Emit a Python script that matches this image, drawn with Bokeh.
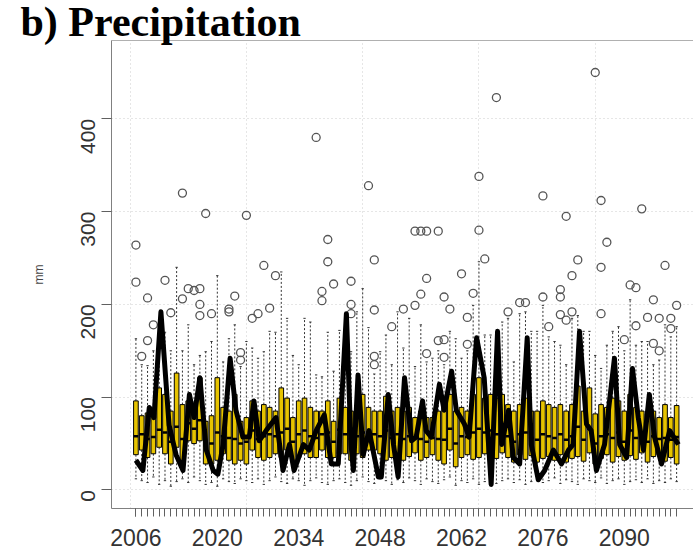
from bokeh.plotting import figure
from bokeh.models import Range1d, FixedTicker, LinearAxis
from bokeh.embed import file_html
from bokeh.resources import INLINE
import math

years = list(range(2006, 2100))

q1 = [38, 43, 35, 39, 46, 39, 28, 46, 32, 53,
      50, 53, 28, 28, 32, 39, 32, 28, 32, 28,
      43, 35, 32, 35, 39, 35, 43, 32, 35, 39,
      35, 35, 43, 35, 35, 39, 39, 32, 39, 35,
      43, 43, 39, 32, 35, 39, 32, 36, 40, 32,
      35, 38, 32, 28, 43, 25, 35, 38, 33, 35,
      39, 36, 34, 40, 35, 30, 38, 33, 37, 30,
      34, 36, 32, 38, 30, 34, 36, 31, 40, 28,
      34, 38, 30, 36, 32, 37, 33, 40, 30, 36,
      38, 31, 35, 28]

medians = [58, 60, 55, 57, 65, 62, 52, 68, 55, 72,
           66, 75, 48, 50, 62, 58, 56, 55, 50, 52,
           64, 55, 58, 60, 58, 62, 66, 52, 60, 64,
           58, 56, 60, 62, 52, 65, 60, 55, 58, 62,
           62, 60, 58, 64, 56, 60, 55, 58, 56, 55,
           52, 56, 55, 54, 66, 50, 58, 57, 62, 66,
           62, 64, 60, 65, 58, 52, 60, 62, 56, 54,
           60, 58, 56, 60, 54, 58, 68, 54, 66, 50,
           58, 60, 56, 62, 52, 64, 56, 58, 52, 58,
           55, 56, 54, 57]

q3 = [96, 80, 83, 83, 110, 103, 85, 126, 92, 96,
      85, 121, 74, 80, 121, 89, 85, 103, 74, 78,
      96, 85, 92, 89, 85, 110, 99, 78, 96, 99,
      89, 85, 85, 96, 74, 99, 89, 85, 85, 103,
      89, 85, 85, 101, 85, 89, 85, 89, 78, 85,
      78, 78, 85, 92, 103, 85, 89, 85, 103, 121,
      99, 103, 99, 103, 92, 85, 92, 99, 85, 85,
      96, 92, 89, 92, 85, 92, 112, 85, 110, 82,
      92, 89, 99, 96, 85, 103, 89, 85, 82, 85,
      78, 92, 78, 91]

whisk_lo = [12, 10, 8, 14, 6, 10, 4, 9, 12, 8,
            14, 10, 6, 8, 4, 12, 9, 7, 12, 10,
            8, 12, 6, 10, 14, 9, 7, 12, 10, 5,
            10, 13, 8, 6, 10, 12, 8, 5, 10, 14,
            9, 7, 12, 10, 6, 11, 8, 13, 10, 6,
            12, 9, 7, 11, 14, 5, 10, 8, 12, 6,
            9, 13, 7, 10, 12, 8, 11, 6, 9, 12,
            8, 10, 13, 7, 11, 9, 6, 12, 10, 8,
            13, 7, 10, 12, 6, 9, 11, 8, 12, 7,
            10, 8, 12, 9]

whisk_hi = [163, 135, 134, 150, 185, 170, 150, 240, 150, 178,
            135, 145, 149, 160, 231, 138, 163, 178, 133, 160,
            153, 142, 149, 171, 170, 235, 185, 145, 135, 185,
            181, 124, 122, 170, 128, 172, 185, 149, 192, 217,
            175, 125, 149, 167, 135, 192, 153, 185, 133, 178,
            138, 142, 150, 135, 171, 163, 142, 150, 199, 246,
            167, 167, 167, 181, 185, 138, 190, 192, 171, 171,
            199, 165, 160, 156, 135, 185, 188, 171, 171, 145,
            131, 156, 171, 176, 150, 205, 156, 160, 160, 135,
            140, 178, 165, 176]

outlier_years = [2006, 2006, 2007, 2008, 2008, 2009, 2011, 2012, 2014, 2014,
                 2015, 2016, 2017, 2017, 2017, 2018, 2019, 2022, 2022, 2023,
                 2024, 2024, 2025, 2026, 2027, 2028, 2029, 2030, 2037, 2038,
                 2038, 2039, 2039, 2040, 2043, 2043, 2043, 2046, 2047, 2047,
                 2047, 2047, 2050, 2052, 2054, 2054, 2055, 2055, 2056, 2056,
                 2056, 2058, 2058, 2059, 2059, 2059, 2060, 2062, 2063, 2063,
                 2064, 2065, 2065, 2066, 2068, 2070, 2072, 2073, 2076, 2076,
                 2077, 2079, 2079, 2079, 2080, 2080, 2081, 2081, 2082, 2085,
                 2086, 2086, 2086, 2087, 2090, 2091, 2092, 2092, 2093, 2094,
                 2095, 2095, 2096, 2096, 2097, 2098, 2098, 2099]
outlier_values = [264, 224, 144, 207, 161, 178, 226, 191, 320, 206,
                  217, 215, 217, 200, 188, 298, 190, 195, 192, 209,
                  148, 140, 296, 185, 190, 242, 196, 231, 380, 214,
                  204, 270, 246, 222, 225, 200, 190, 328, 248, 194,
                  144, 135, 176, 195, 279, 199, 279, 211, 279, 228,
                  147, 279, 161, 208, 162, 143, 195, 233, 186, 157,
                  212, 338, 280, 249, 423, 192, 202, 202, 317, 208,
                  176, 216, 208, 189, 295, 183, 231, 192, 248, 450,
                  312, 240, 190, 267, 162, 221, 218, 177, 303, 186,
                  205, 158, 185, 150, 242, 185, 174, 199]

line_years = [2006.0, 2007.2, 2008.3, 2009.1, 2010.3, 2011.7, 2012.9, 2014.1, 2015.2, 2016.0,
              2017.0, 2018.1, 2019.3, 2020.1, 2021.0, 2022.2, 2023.2, 2024.4, 2025.5, 2026.3,
              2027.2, 2028.4, 2030.1, 2031.3, 2032.4, 2033.2, 2034.8, 2035.8, 2037.0, 2038.4,
              2039.6, 2040.8, 2042.2, 2043.0, 2043.4, 2044.2, 2045.1, 2046.1, 2047.7, 2048.2,
              2049.4, 2050.3, 2051.1, 2052.2, 2053.4, 2054.2, 2055.3, 2055.9, 2056.8, 2058.2,
              2059.0, 2060.3, 2061.1, 2062.5, 2063.3, 2064.6, 2065.9, 2067.1, 2068.2, 2068.9,
              2070.1, 2070.9, 2072.0, 2073.3, 2074.0, 2075.2, 2076.3, 2077.8, 2079.2, 2080.4,
              2081.2, 2082.3, 2083.5, 2084.3, 2085.2, 2086.6, 2088.3, 2089.2, 2090.4, 2091.4,
              2092.4, 2093.3, 2094.3, 2095.2, 2096.4, 2097.8, 2099.3]
line_values = [32, 21, 89, 78, 192, 70, 38, 21, 103, 78,
               121, 43, 21, 17, 49, 142, 86, 57, 57, 96,
               53, 64, 78, 21, 49, 21, 49, 43, 64, 81,
               28, 28, 190, 49, 21, 124, 38, 64, 14, 14,
               103, 49, 14, 121, 53, 57, 96, 64, 57, 114,
               86, 128, 86, 71, 57, 164, 121, 6, 171, 49,
               86, 35, 28, 164, 49, 11, 21, 43, 28, 43,
               49, 171, 71, 64, 21, 49, 142, 49, 35, 131,
               78, 43, 103, 57, 28, 64, 49]

label_years = [2006, 2020, 2034, 2048, 2062, 2076, 2090]
y_ticks = [0, 100, 200, 300, 400]
grid_years = [2005, 2025, 2045, 2065, 2085]

box_half = 0.4
cap_half = 0.2

p = figure(width=693, height=553, output_backend="svg", toolbar_location=None,
           x_range=Range1d(2001.8, 2101.9), y_range=Range1d(-20, 484.5),
           min_border_left=111, min_border_top=40, min_border_bottom=45,
           min_border_right=0)
p.outline_line_color = None
p.background_fill_color = "white"
p.border_fill_color = "white"

# title overlapping the top border
p.title.text = "b) Precipitation"
p.title.align = "left"
p.title.offset = -91
p.title.standoff = -8
p.title.text_font = "Liberation Serif"
p.title.text_font_style = "bold"
p.title.text_font_size = "42px"
p.title.text_color = "black"

# grid
p.xgrid.ticker = FixedTicker(ticks=grid_years)
p.ygrid.ticker = FixedTicker(ticks=y_ticks)
for g in (p.xgrid, p.ygrid):
    g.grid_line_color = "#cccccc"
    g.grid_line_dash = "1 3"
    g.grid_line_width = 1

# x axis
xa = p.xaxis[0]
xa.ticker = FixedTicker(ticks=label_years, minor_ticks=years)
xa.major_tick_out = 8
xa.major_tick_in = 0
xa.minor_tick_out = 8
xa.minor_tick_in = 0
xa.axis_line_color = "#808080"
xa.major_tick_line_color = "#606060"
xa.minor_tick_line_color = "#606060"
xa.major_label_text_font = "Liberation Sans"
xa.major_label_text_font_size = "23px"
xa.major_label_text_color = "#333333"
xa.major_label_standoff = 12

# y axis
ya = p.yaxis[0]
ya.ticker = FixedTicker(ticks=y_ticks)
ya.major_tick_out = 10
ya.major_tick_in = 0
ya.minor_tick_line_color = None
ya.axis_line_color = "#808080"
ya.major_tick_line_color = "#606060"
ya.major_label_orientation = math.pi / 2
ya.major_label_text_font = "Liberation Sans"
ya.major_label_text_font_size = "21px"
ya.major_label_text_color = "#333333"
ya.major_label_standoff = 13
ya.axis_label = "mm"
ya.axis_label_text_font = "Liberation Sans"
ya.axis_label_text_font_style = "normal"
ya.axis_label_text_font_size = "12px"
ya.axis_label_text_color = "#444444"
ya.axis_label_standoff = 26

# top border line
top = LinearAxis(ticker=FixedTicker(ticks=[]), major_tick_out=0, major_tick_in=0,
                 minor_tick_out=0, major_label_text_font_size="0px",
                 axis_line_color="#b0b0b0")
p.add_layout(top, "above")

# whiskers
p.segment(x0=years, y0=q3, x1=years, y1=whisk_hi, line_color="#333333",
          line_width=1, line_dash="2 2")
p.segment(x0=years, y0=q1, x1=years, y1=whisk_lo, line_color="#333333",
          line_width=1, line_dash="2 2")
p.segment(x0=[y - cap_half for y in years], y0=whisk_hi,
          x1=[y + cap_half for y in years], y1=whisk_hi, line_color="#333333", line_width=1)
p.segment(x0=[y - cap_half for y in years], y0=whisk_lo,
          x1=[y + cap_half for y in years], y1=whisk_lo, line_color="#333333", line_width=1)

# boxes
p.vbar(x=years, width=2 * box_half, bottom=q1, top=q3, fill_color="#E6C300",
       line_color="black", line_width=1)
p.segment(x0=[y - box_half for y in years], y0=medians,
          x1=[y + box_half for y in years], y1=medians, line_color="black", line_width=2.5)

# outliers
p.scatter(x=outlier_years, y=outlier_values, marker="circle", size=8,
          fill_color=None, line_color="#555555", line_width=1.3)

# black series line
p.line(x=line_years, y=line_values, line_color="black", line_width=5,
       line_join="round")

open("out.html", "w").write(file_html(p, INLINE))
